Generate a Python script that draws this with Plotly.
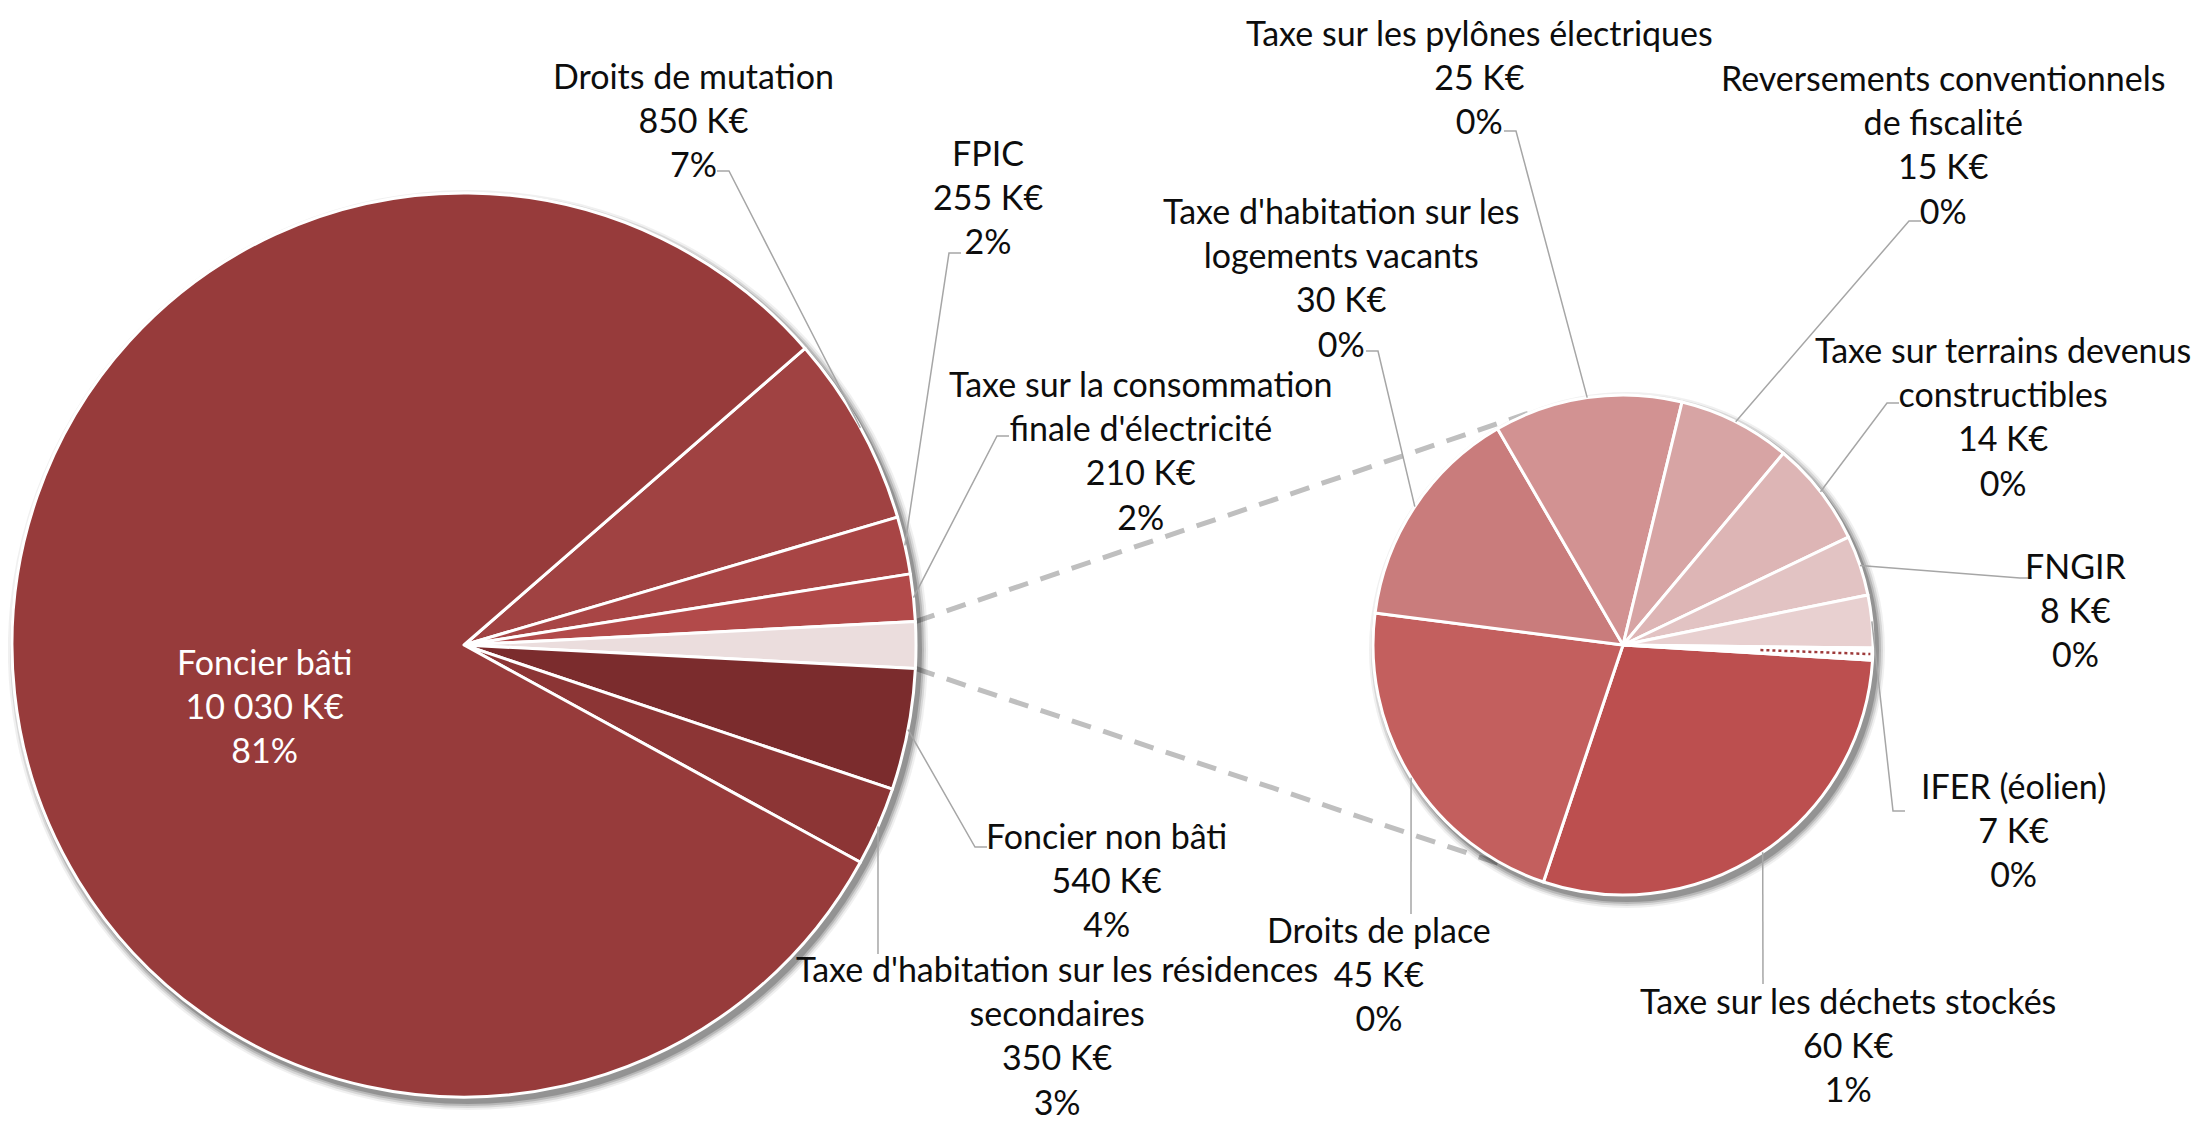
import math
import textwrap

import plotly.graph_objects as go

W, H = 2204, 1132
OFF = 8                      # default page margin around the plot div
FW, FH = W - 2 * OFF, H - 2 * OFF

# main pie, clockwise, starting with "Droits de mutation"
main_labels = ["Droits de mutation", "FPIC", "Taxe sur la consommation finale d'électricité",
               "Autres", "Foncier non bâti", "Taxe d'habitation sur les résidences secondaires",
               "Foncier bâti"]
main_values = [850, 255, 210, None, 540, 350, 10030]
main_pcts = [7, 2, 2, None, 4, 3, 81]

# secondary pie (detail of "Autres"), clockwise
sub_labels = ["Taxe sur les déchets stockés", "Droits de place",
              "Taxe d'habitation sur les logements vacants", "Taxe sur les pylônes électriques",
              "Reversements conventionnels de fiscalité", "Taxe sur terrains devenus constructibles",
              "FNGIR", "IFER (éolien)", ""]
sub_values = [60, 45, 30, 25, 15, 14, 8, 7, 1.6]
sub_pcts = [1, 0, 0, 0, 0, 0, 0, 0, None]

main_values[3] = sum(sub_values)

main_colors = ["#A04242", "#A84545", "#B24A4A", "#EBDDDD", "#7B2C2D", "#8C3535", "#973B3B"]
sub_colors = ["#BC4F4F", "#C35F5E", "#C97C7C", "#D29292", "#D7A4A4", "#DDB5B5",
              "#E2C3C3", "#E8D0D0", "#FFFFFF"]

# geometry (screen pixels)
MAIN_C, MAIN_R = (464, 645), 452
SUB_C, SUB_R = (1623, 645), 250
SUB_ROT = 93.5
CONN_TOP, CONN_BOT = 340, 208

# label layout: text centre, wrap width, leader anchor (x, y, stub)
main_text = [(693, 119), (988, 197), (1141, 450), None, (1106, 879), (1057, 1035), (264, 705)]
main_wrap = [40, 40, 26, 0, 40, 36, 40]
main_anchor = [(717, 171, 12), (961, 253, -12), (1009, 436, -12), None,
               (987, 847, -12), (878, 954, 0), None]
sub_text = [(1848, 1044), (1379, 973), (1341, 277), (1479, 77), (1943, 144), (2003, 416),
            (2076, 609), (2013, 829), None]
sub_wrap = [40, 40, 26, 40, 27, 26, 40, 40, 0]
sub_anchor = [(1763, 984, 0), (1411, 914, 0), (1366, 351, 12), (1504, 131, 12),
              (1921, 221, -12), (1899, 403, -12), (2032, 578, -12), (1905, 811, -12), None]

FONT = "Lato, 'Open Sans', sans-serif"
FSIZE = 34


def P(px, py):
    return (px - OFF) / FW, 1 - (py - OFF) / FH


def dom(cx, cy, r):
    x0, y1 = P(cx - r, cy - r)
    x1, y0 = P(cx + r, cy + r)
    return dict(x=[max(x0, 0), min(x1, 1)], y=[max(y0, 0), min(y1, 1)])


def rim(c, r, ang):
    a = math.radians(ang)
    return c[0] + r * math.sin(a), c[1] - r * math.cos(a)


def slice_angles(values, rot):
    tot = sum(values)
    out, acc = [], rot
    for v in values:
        a = v / tot * 360
        out.append((acc, acc + a))
        acc += a
    return out


# rotate the main pie so the "Autres" slice is centred at 3 o'clock
tot = sum(main_values)
before = sum(main_values[:3]) + main_values[3] / 2
main_rot = 90 - before / tot * 360

fig = go.Figure()

# soft outer shadows
for c, r in [(MAIN_C, MAIN_R), (SUB_C, SUB_R)]:
    for dr, al in [(8, 0.06), (6, 0.10), (4, 0.14), (2, 0.20)]:
        fig.add_trace(go.Pie(values=[1], domain=dom(c[0] + 4, c[1] + 5, r + dr), sort=False,
                             marker=dict(colors=[f"rgba(0,0,0,{al})"], line=dict(width=0)),
                             textinfo="none", hoverinfo="skip", showlegend=False))

fig.add_trace(go.Pie(labels=main_labels, values=main_values, sort=False, direction="clockwise",
                     rotation=main_rot, domain=dom(*MAIN_C, MAIN_R),
                     marker=dict(colors=main_colors, line=dict(color="white", width=3)),
                     textinfo="none", showlegend=False))
fig.add_trace(go.Pie(labels=[s or "-" for s in sub_labels], values=sub_values, sort=False,
                     direction="clockwise", rotation=SUB_ROT, domain=dom(*SUB_C, SUB_R),
                     marker=dict(colors=sub_colors, line=dict(color="white", width=3)),
                     textinfo="none", showlegend=False))

shapes, annos = [], []

# dashed connectors between the "Autres" slice and the secondary pie
m_ang = slice_angles(main_values, main_rot)
a0, a1 = m_ang[3]
for ma, sa in [(a0, CONN_TOP), (a1, CONN_BOT)]:
    x0, y0 = P(*rim(MAIN_C, MAIN_R, ma))
    x1, y1 = P(*rim(SUB_C, SUB_R, sa))
    shapes.append(dict(type="line", xref="paper", yref="paper", x0=x0, y0=y0, x1=x1, y1=y1,
                       layer="below", line=dict(color="#BFBFBF", width=5, dash="20px,13px")))

# dotted outline of the tiny slice
s_ang = slice_angles(sub_values, SUB_ROT)
tm = sum(s_ang[-1]) / 2
x0, y0 = P(*rim(SUB_C, SUB_R * 0.55, tm))
x1, y1 = P(*rim(SUB_C, SUB_R * 0.99, tm))
shapes.append(dict(type="line", xref="paper", yref="paper", x0=x0, y0=y0, x1=x1, y1=y1,
                   line=dict(color="#9E3A3A", width=2.5, dash="dot")))


def fmt(v):
    return f"{v:,}".replace(",", " ") + " K€"


def add_labels(labels, values, pcts, angs, texts, wraps, anchors, c, r):
    for i, lab in enumerate(labels):
        if texts[i] is None:
            continue
        lines = textwrap.wrap(lab, wraps[i]) + [fmt(values[i]), f"{pcts[i]}%"]
        tx, ty = P(*texts[i])
        white = anchors[i] is None
        annos.append(dict(x=tx, y=ty, xref="paper", yref="paper", showarrow=False,
                          text="<br>".join(lines), align="center",
                          xanchor="center", yanchor="middle",
                          font=dict(family=FONT, size=FSIZE,
                                    color="white" if white else "#0D0D0D")))
        if white:
            continue
        ax, ay, stub = anchors[i]
        px, py = rim(c, r, sum(angs[i]) / 2)
        pts = [P(ax, ay), P(ax + stub, ay), P(px, py)]
        path = "M " + " L ".join(f"{x:.5f},{y:.5f}" for x, y in pts)
        shapes.append(dict(type="path", xref="paper", yref="paper", path=path,
                           line=dict(color="#A6A6A6", width=1.5)))


add_labels(main_labels, main_values, main_pcts, m_ang, main_text, main_wrap, main_anchor,
           MAIN_C, MAIN_R)
add_labels(sub_labels, sub_values, sub_pcts, s_ang, sub_text, sub_wrap, sub_anchor,
           SUB_C, SUB_R)

fig.update_layout(width=FW, height=FH, margin=dict(l=0, r=0, t=0, b=0),
                  paper_bgcolor="white", plot_bgcolor="white",
                  shapes=shapes, annotations=annos, showlegend=False)
fig.write_html("out.html")
